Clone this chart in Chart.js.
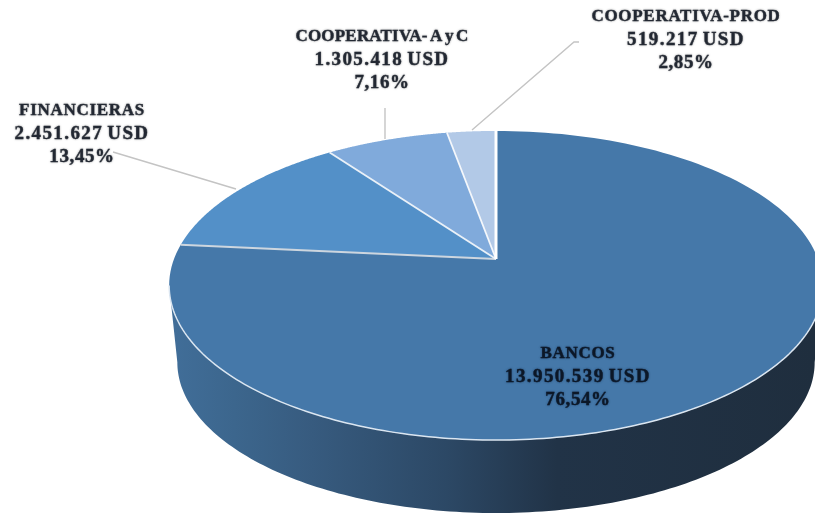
<!DOCTYPE html>
<html>
<head>
<meta charset="utf-8">
<script src="https://cdn.jsdelivr.net/npm/chart.js@4"></script>
<style>
html,body{margin:0;padding:0;background:#fff;overflow:hidden}
#wrap{width:815px;height:514px}
canvas{display:block;filter:blur(0.4px)}
</style>
</head>
<body>
<div id="wrap"><canvas id="c" width="815" height="514"></canvas></div>
<script>
const categories = ["BANCOS", "FINANCIERAS", "COOPERATIVA- A y C", "COOPERATIVA-PROD"];
const usdValues = [13950539, 2451627, 1305418, 519217];
const usdLabels = ["13.950.539 USD", "2.451.627 USD", "1.305.418 USD", "519.217 USD"];
const pctLabels = ["76,54%", "13,45%", "7,16%", "2,85%"];
const sliceColors = ["#4578a9", "#5390c8", "#80aadb", "#b2c9e7"];

// View of the tilted disc
const VIEW = { xStretch: 322 / 150, tilt: 0.1715, depth: 77.5, baseScale: 0.975 };

// Callout text centres and leader lines, in slice order
const LABEL_POS = [
  { x: 578, y: 353, dark: true },
  { x: 82, y: 110 },
  { x: 382, y: 36, nameSpacing: "0.2px" },
  { x: 686, y: 16 }
];
const LEADERS = [
  null,
  [[113, 152], [236, 189]],
  [[385, 108], [385, 139]],
  [[579, 42], [574, 42], [472, 130]]
];
const EDGE_STYLE = [
  { color: "#ffffff", width: 3 },
  { color: "#cdd6df", width: 2.2 },
  { color: "#eaf1f8", width: 1.8 },
  { color: "#f4f7fb", width: 1.8 }
];
const LINE_STYLE = [
  { font: 'bold 17px "Liberation Serif", serif', spacing: "0.7px", word: "-2px", nudge: 1 },
  { font: 'bold 19px "Liberation Serif", serif', spacing: "1.4px", word: "-2px", nudge: 0 },
  { font: 'bold 19px "Liberation Serif", serif', spacing: "0.6px", word: "0px", nudge: 0 }
];

function project(el, theta, scale, dy) {
  const u = Math.cos(theta), v = Math.sin(theta);
  const w = 1 - VIEW.tilt * v;
  const R = el.outerRadius * scale;
  return {
    x: el.x + VIEW.xStretch * R * u / w,
    y: el.y + dy + R * v / w
  };
}

function tracePts(ctx, el, a, b, scale, dy, first) {
  const n = 160;
  for (let i = 0; i <= n; i++) {
    const p = project(el, a + (b - a) * i / n, scale, dy);
    if (i === 0 && first) ctx.moveTo(p.x, p.y); else ctx.lineTo(p.x, p.y);
  }
}

const discPlugin = {
  id: "disc",
  beforeDatasetsDraw(chart) {
    const ctx = chart.ctx;
    const arcs = chart.getDatasetMeta(0).data;
    ctx.save();

    // Leaders sit under the disc
    ctx.strokeStyle = "#c4c4c4";
    ctx.lineWidth = 1.4;
    LEADERS.forEach(l => {
      if (!l) return;
      ctx.beginPath();
      l.forEach((p, i) => i ? ctx.lineTo(p[0], p[1]) : ctx.moveTo(p[0], p[1]));
      ctx.stroke();
    });

    // Side wall of the largest slice
    const big = arcs[0];
    const edge = Math.asin(VIEW.tilt);
    const left = Math.PI - edge, right = edge;
    const g = ctx.createLinearGradient(170, 0, 815, 0);
    g.addColorStop(0, "#416e99");
    g.addColorStop(0.1, "#3c668d");
    g.addColorStop(0.22, "#375b7f");
    g.addColorStop(0.43, "#2c4865");
    g.addColorStop(0.6, "#213347");
    g.addColorStop(1, "#1f2e3e");
    ctx.fillStyle = g;
    ctx.beginPath();
    tracePts(ctx, big, left, right, 1, 0, true);
    tracePts(ctx, big, right, left, VIEW.baseScale, VIEW.depth, false);
    ctx.closePath();
    ctx.fill();

    // Top face
    arcs.forEach((el, i) => {
      ctx.fillStyle = sliceColors[i];
      ctx.beginPath();
      ctx.moveTo(el.x, el.y);
      tracePts(ctx, el, el.startAngle, el.endAngle, 1, 0, false);
      ctx.closePath();
      ctx.fill();
    });

    // Front rim highlight
    ctx.strokeStyle = "#dbe6f1";
    ctx.lineWidth = 1.5;
    ctx.beginPath();
    tracePts(ctx, big, left, right, 1, 0, true);
    ctx.stroke();

    // Slice borders
    ctx.lineCap = "butt";
    [1, 2, 3, 0].forEach(i => {
      const el = arcs[i];
      const p = project(el, el.startAngle, 1, 0);
      ctx.strokeStyle = EDGE_STYLE[i].color;
      ctx.lineWidth = EDGE_STYLE[i].width;
      ctx.beginPath();
      ctx.moveTo(el.x, el.y);
      ctx.lineTo(p.x, p.y);
      ctx.stroke();
    });
    ctx.restore();
    return false;
  },
  afterDraw(chart) {
    const ctx = chart.ctx;
    ctx.save();
    ctx.textAlign = "center";
    ctx.textBaseline = "middle";
    categories.forEach((name, i) => {
      const pos = LABEL_POS[i];
      const lines = [name, usdLabels[i], pctLabels[i]];
      lines.forEach((t, j) => {
        const st = LINE_STYLE[j];
        const y = pos.y + j * 23.6 + st.nudge;
        ctx.font = st.font;
        ctx.letterSpacing = (j === 0 && pos.nameSpacing) || st.spacing;
        ctx.wordSpacing = st.word;
        ctx.shadowColor = pos.dark ? "rgba(20,40,70,0.55)" : "rgba(90,90,90,0.55)";
        ctx.shadowBlur = 2;
        ctx.fillStyle = pos.dark ? "#0c1726" : "#1f2530";
        ctx.strokeStyle = ctx.fillStyle;
        ctx.lineWidth = 0.35;
        ctx.fillText(t, pos.x, y);
        ctx.strokeText(t, pos.x, y);
      });
    });
    ctx.restore();
  }
};

new Chart(document.getElementById("c"), {
  type: "pie",
  data: {
    labels: categories,
    datasets: [{ data: usdValues, backgroundColor: sliceColors, borderWidth: 0 }]
  },
  options: {
    responsive: false,
    animation: false,
    rotation: 0,
    layout: { padding: { left: 346, right: 169, top: 109, bottom: 105 } },
    plugins: { legend: { display: false }, tooltip: { enabled: false }, title: { display: false } }
  },
  plugins: [discPlugin]
});
</script>
</body>
</html>
